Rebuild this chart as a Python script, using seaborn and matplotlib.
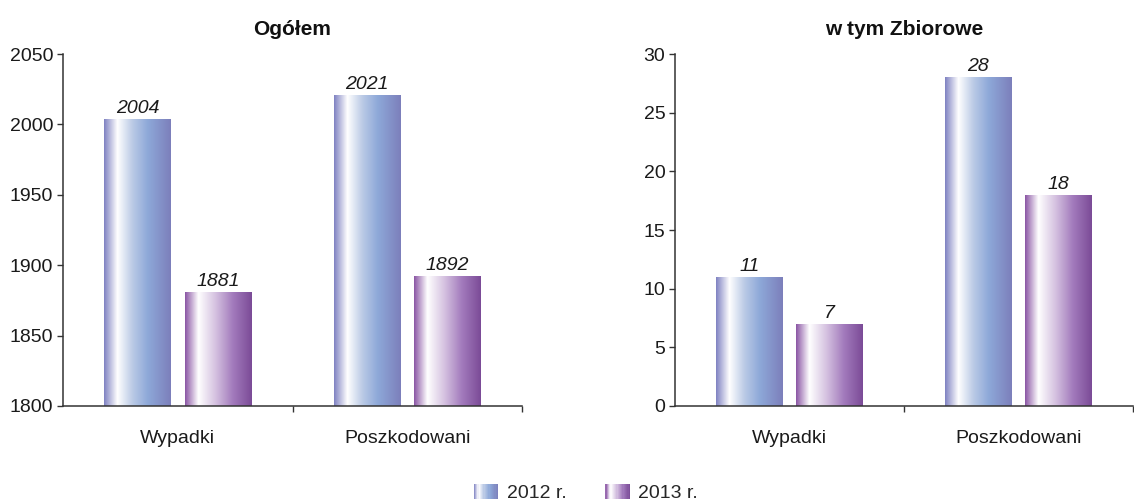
import numpy as np
import pandas as pd
import matplotlib
matplotlib.use("Agg")
import matplotlib.pyplot as plt
import seaborn as sns
from matplotlib.colors import LinearSegmentedColormap
from matplotlib.patches import Rectangle
from matplotlib.legend_handler import HandlerBase

# Data
categories = ["Wypadki", "Poszkodowani"]
years = ["2012 r.", "2013 r."]
ogolem_2012 = [2004, 2021]
ogolem_2013 = [1881, 1892]
zbiorowe_2012 = [11, 28]
zbiorowe_2013 = [7, 18]

# Gradient colours (left -> right across a bar)
grad_2012 = LinearSegmentedColormap.from_list("g12", [
    (0.0, "#7f82c2"), (0.2, "#ffffff"), (0.42, "#bccbe6"),
    (0.65, "#8ea9d9"), (1.0, "#7c7fbb")])
grad_2013 = LinearSegmentedColormap.from_list("g13", [
    (0.0, "#8a55a4"), (0.2, "#ffffff"), (0.45, "#d6c3e1"),
    (0.72, "#a27abc"), (1.0, "#7b4b97")])
grads = [grad_2012, grad_2013]

sns.set_style("white")
plt.rcParams["font.family"] = ["Liberation Sans", "DejaVu Sans"]
FS = 14

fig = plt.figure(figsize=(11.34, 5.04), dpi=100)
W, H = 1134, 504
ax1 = fig.add_axes([63 / W, 1 - 406 / H, (522 - 63) / W, (406 - 54) / H])
ax2 = fig.add_axes([675 / W, 1 - 406 / H, (1133 - 675) / W, (406 - 54) / H])


def draw(ax, v12, v13, ylim, yticks, title):
    df = pd.DataFrame({
        "kat": categories * 2,
        "rok": [years[0]] * 2 + [years[1]] * 2,
        "val": list(v12) + list(v13),
    })
    sns.barplot(data=df, x="kat", y="val", hue="rok", ax=ax, width=0.7,
                palette=["#8ea9d9", "#a27abc"], legend=False, saturation=1)
    ax.set_ylim(*ylim)
    ax.set_xlim(-0.5, 1.5 if ax is ax1 else 1.475)
    grad = np.linspace(0, 1, 256).reshape(1, -1)
    for i, cont in enumerate(ax.containers):
        for p, v in zip(cont.patches, [v12, v13][i]):
            cx = p.get_x() + p.get_width() / 2
            w = 0.29
            p.set_x(cx - w / 2)
            p.set_width(w)
            p.set_edgecolor("none")
            x0 = cx - w / 2
            im = ax.imshow(grad, cmap=grads[i], aspect="auto",
                           extent=[x0, x0 + w, ylim[0], v], zorder=2)
            im.set_clip_path(p)
            ax.text(cx, v + (ylim[1] - ylim[0]) * 0.006, f"{v}", ha="center",
                    va="bottom", fontsize=FS, style="italic", color="#1a1a1a")
    ax.set_yticks(yticks)
    ax.set_xlabel("")
    ax.set_ylabel("")
    ax.set_title(title, fontsize=15, fontweight="bold", pad=14, color="#111111")
    for s in ["top", "right"]:
        ax.spines[s].set_visible(False)
    for s in ["left", "bottom"]:
        ax.spines[s].set_color("#333333")
        ax.spines[s].set_linewidth(1.1)
    ax.tick_params(axis="y", left=True, length=4, width=1, color="#333333",
                   labelsize=FS, labelcolor="#1a1a1a", pad=3)
    ax.tick_params(axis="x", bottom=False, labelsize=FS, labelcolor="#1a1a1a", pad=14)
    ax.set_xticks([0.5, 1.5], minor=True)
    ax.tick_params(axis="x", which="minor", bottom=True, length=4, width=1, color="#333333")
    ax.grid(False)


draw(ax1, ogolem_2012, ogolem_2013, (1800, 2050), [1800, 1850, 1900, 1950, 2000, 2050], "Ogółem")
draw(ax2, zbiorowe_2012, zbiorowe_2013, (0, 30), [0, 5, 10, 15, 20, 25, 30], "w tym Zbiorowe")


class GradHandler(HandlerBase):
    def __init__(self, cmap):
        super().__init__()
        self.cmap = cmap

    def create_artists(self, legend, orig_handle, xdescent, ydescent, width, height, fontsize, trans):
        n = 20
        arts = []
        for k in range(n):
            r = Rectangle((-xdescent + width * k / n, -ydescent), width / n + 0.3, height,
                          facecolor=self.cmap((k + 0.5) / n), edgecolor="none", transform=trans)
            arts.append(r)
        return arts


h1 = Rectangle((0, 0), 1, 1)
h2 = Rectangle((0, 0), 1, 1)
fig.legend([h1, h2], years, loc="center", bbox_to_anchor=(586 / W, 1 - 493 / H),
           ncol=2, frameon=False, fontsize=FS, handlelength=1.25, handleheight=0.8,
           columnspacing=2.0, handletextpad=0.45, borderpad=0,
           handler_map={h1: GradHandler(grad_2012), h2: GradHandler(grad_2013)})

fig.savefig("out.png", dpi=100)
